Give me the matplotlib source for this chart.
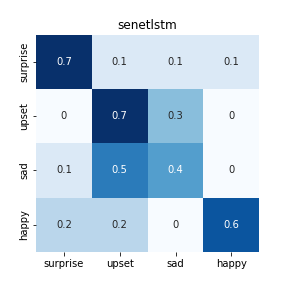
import numpy as np
import matplotlib
matplotlib.use("Agg")
import matplotlib.pyplot as plt
import seaborn as sns

labels = ["surprise", "upset", "sad", "happy"]
row_surprise = [0.7, 0.1, 0.1, 0.1]
row_upset = [0, 0.7, 0.3, 0]
row_sad = [0.1, 0.5, 0.4, 0]
row_happy = [0.2, 0.2, 0, 0.6]
cm = np.array([row_surprise, row_upset, row_sad, row_happy])

fig = plt.figure(figsize=(4, 4), dpi=72)
ax = fig.add_subplot(111)
fig.subplots_adjust(left=0.125, right=0.9, top=0.88, bottom=0.125)
sns.heatmap(cm, annot=True, cmap="Blues", cbar=False, ax=ax,
            xticklabels=labels, yticklabels=labels)
ax.set_title("senetlstm")
plt.savefig("out.png", dpi=72)
